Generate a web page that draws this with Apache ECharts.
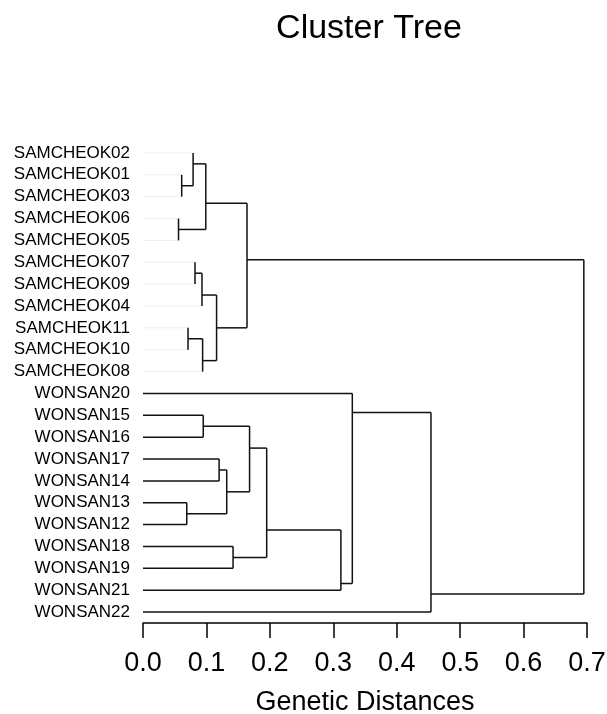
<!DOCTYPE html>
<html>
<head>
<meta charset="utf-8">
<title>Cluster Tree</title>
<script src="https://cdn.jsdelivr.net/npm/echarts@6/dist/echarts.min.js"></script>
<style>
  html, body { margin: 0; padding: 0; background: #fff; }
  #chart { width: 607px; height: 714px; }
</style>
</head>
<body>
<div id="chart"></div>
<script>
// leaves, top to bottom
const leaves = [
  'SAMCHEOK02', 'SAMCHEOK01', 'SAMCHEOK03', 'SAMCHEOK06', 'SAMCHEOK05',
  'SAMCHEOK07', 'SAMCHEOK09', 'SAMCHEOK04', 'SAMCHEOK11', 'SAMCHEOK10',
  'SAMCHEOK08', 'WONSAN20', 'WONSAN15', 'WONSAN16', 'WONSAN17', 'WONSAN14',
  'WONSAN13', 'WONSAN12', 'WONSAN18', 'WONSAN19', 'WONSAN21', 'WONSAN22'
]

// merges: [upper child, lower child, genetic distance]; node n1, n2 ... in this order
const merges = [
  ['SAMCHEOK01', 'SAMCHEOK03', 0.061],
  ['SAMCHEOK02', 'n1', 0.079],
  ['SAMCHEOK06', 'SAMCHEOK05', 0.056],
  ['n2', 'n3', 0.099],
  ['SAMCHEOK07', 'SAMCHEOK09', 0.082],
  ['n5', 'SAMCHEOK04', 0.093],
  ['SAMCHEOK11', 'SAMCHEOK10', 0.071],
  ['n7', 'SAMCHEOK08', 0.094],
  ['n6', 'n8', 0.116],
  ['n4', 'n9', 0.164],
  ['WONSAN15', 'WONSAN16', 0.095],
  ['WONSAN17', 'WONSAN14', 0.120],
  ['WONSAN13', 'WONSAN12', 0.069],
  ['n12', 'n13', 0.132],
  ['n11', 'n14', 0.168],
  ['WONSAN18', 'WONSAN19', 0.142],
  ['n15', 'n16', 0.195],
  ['n17', 'WONSAN21', 0.312],
  ['WONSAN20', 'n18', 0.330],
  ['n19', 'WONSAN22', 0.454],
  ['n10', 'n20', 0.695]
]

const xTicks = [0, 0.1, 0.2, 0.3, 0.4, 0.5, 0.6, 0.7]

// build node positions (y = leaf row, x = distance)
const nodes = {}
leaves.forEach(function (name, i) {
  nodes[name] = { y: i, h: 0, n: 1, leaf: true }
})
const segments = []
merges.forEach(function (m, i) {
  const a = nodes[m[0]]
  const b = nodes[m[1]]
  const h = m[2]
  // parent sits closer to the smaller child, like the original plot
  const y = (a.y * b.n + b.y * a.n) / (a.n + b.n)
  nodes['n' + (i + 1)] = { y: y, h: h, n: a.n + b.n, leaf: false }
  // the scan lost the leaf stubs of the SAMCHEOK group
  const fadeA = a.leaf && m[0].indexOf('SAMCHEOK') === 0 ? 1 : 0
  const fadeB = b.leaf && m[1].indexOf('SAMCHEOK') === 0 ? 1 : 0
  segments.push([a.h, a.y, h, a.y, fadeA])
  segments.push([b.h, b.y, h, b.y, fadeB])
  segments.push([h, a.y, h, b.y, 0])
})

const font = '"Liberation Sans", Arial, sans-serif'
const chart = echarts.init(document.getElementById('chart'))

chart.setOption({
  backgroundColor: '#fff',
  animation: false,
  title: {
    text: 'Cluster Tree',
    left: 364,
    textAlign: 'center',
    top: 7,
    textStyle: {
      fontFamily: font,
      fontWeight: 'normal',
      fontSize: 34,
      color: '#000'
    }
  },
  grid: {
    left: 143,
    right: 20,
    top: 142,
    bottom: 91,
    outerBoundsMode: 'none'
  },
  xAxis: {
    type: 'value',
    position: 'bottom',
    min: 0,
    max: 0.7,
    interval: 0.1,
    name: 'Genetic Distances',
    nameLocation: 'middle',
    nameGap: 66,
    nameTextStyle: {
      fontFamily: font,
      fontSize: 27,
      color: '#000'
    },
    axisLine: { onZero: false, lineStyle: { color: '#000', width: 1.5 } },
    axisTick: { length: 15, lineStyle: { color: '#000', width: 1.5 } },
    splitLine: { show: false },
    axisLabel: {
      margin: 27,
      fontFamily: font,
      fontSize: 27,
      color: '#000',
      formatter: function (v) { return v.toFixed(1) },
      customValues: xTicks
    }
  },
  yAxis: [{
    // leaf labels
    type: 'category',
    inverse: true,
    boundaryGap: true,
    data: leaves,
    axisLine: { show: false, onZero: false },
    axisTick: { show: false },
    splitLine: { show: false },
    axisLabel: {
      interval: 0,
      margin: 13,
      fontFamily: font,
      fontSize: 17,
      color: '#000'
    }
  }, {
    // rows as numbers, for the tree lines
    type: 'value',
    inverse: true,
    min: -0.5,
    max: leaves.length - 0.5,
    show: false
  }],
  series: [{
    type: 'custom',
    yAxisIndex: 1,
    silent: true,
    clip: false,
    encode: { x: [0, 2], y: [1, 3] },
    data: segments,
    renderItem: function (params, api) {
      const p1 = api.coord([api.value(0), api.value(1)])
      const p2 = api.coord([api.value(2), api.value(3)])
      const faded = api.value(4) === 1
      return {
        type: 'line',
        shape: { x1: p1[0], y1: p1[1], x2: p2[0], y2: p2[1] },
        style: {
          stroke: faded ? '#eeeeee' : '#111',
          lineWidth: faded ? 1 : 1.5
        }
      }
    }
  }]
})
</script>
</body>
</html>
